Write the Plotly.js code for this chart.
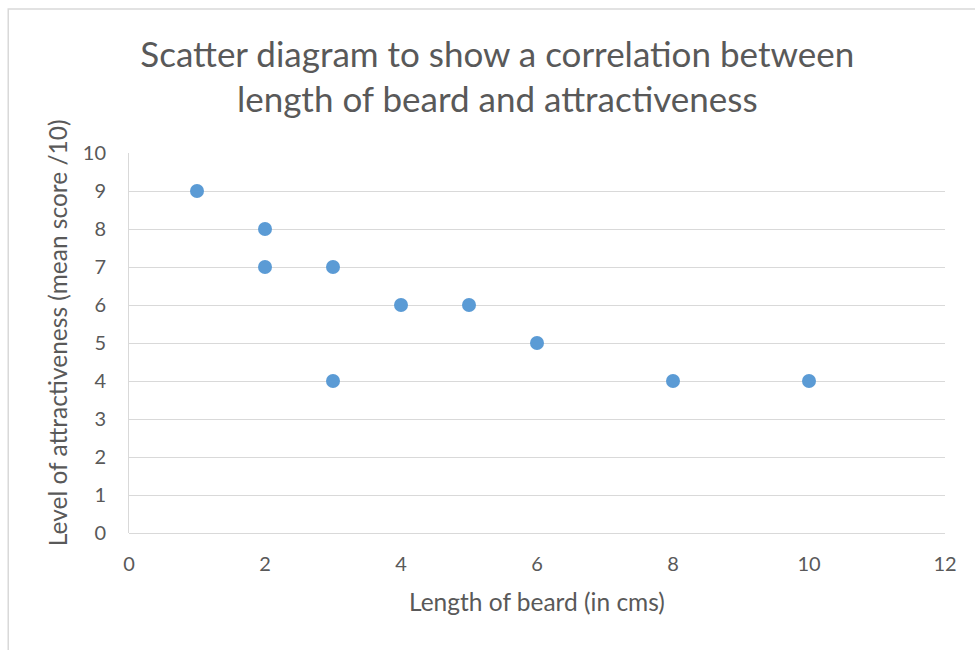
<!DOCTYPE html>
<html>
<head>
<meta charset="utf-8">
<script src="https://cdn.plot.ly/plotly-3.0.1.min.js"></script>
<style>html,body{margin:0;padding:0;background:#fff;}#chart{width:975px;height:650px;}</style>
</head>
<body>
<div id="chart"></div>
<script>
const beardLength = [1, 2, 2, 3, 3, 4, 5, 6, 8, 10];
const attractiveness = [9, 8, 7, 7, 4, 6, 6, 5, 4, 4];
const xTicks = [0, 2, 4, 6, 8, 10, 12];
const yTicks = [0, 1, 2, 3, 4, 5, 6, 7, 8, 9, 10];
const xTitle = 'Length of beard (in cms)';
const yTitle = 'Level of attractiveness (mean score /10)';

const fontFam = 'Lato, Calibri, sans-serif';
const textColor = '#595959';

const trace = {
  x: beardLength,
  y: attractiveness,
  mode: 'markers',
  type: 'scatter',
  marker: {color: '#5b9bd5', size: 14, line: {width: 0}},
  hoverinfo: 'x+y'
};

const layout = {
  width: 975,
  height: 650,
  margin: {l: 129, r: 30, t: 153, b: 117},
  paper_bgcolor: '#ffffff',
  plot_bgcolor: '#ffffff',
  showlegend: false,
  font: {family: fontFam, color: textColor},
  title: {
    text: 'Scatter diagram to show a correlation between<br>length of beard and attractiveness',
    font: {family: fontFam, size: 35, color: textColor},
    xref: 'container', x: 0.51, xanchor: 'center',
    yref: 'container', y: 0.897, yanchor: 'middle'
  },
  xaxis: {
    range: [0, 12],
    tickvals: xTicks,
    ticktext: xTicks.map(String),
    showgrid: false,
    zeroline: false,
    showline: false,
    ticks: '',
    ticklabelstandoff: 17,
    tickfont: {family: fontFam, size: 20, color: textColor},
    fixedrange: true
  },
  yaxis: {
    range: [0, 10],
    tickvals: yTicks,
    ticktext: yTicks.map(String),
    showgrid: true,
    gridcolor: '#d9d9d9',
    gridwidth: 1,
    zeroline: true,
    zerolinecolor: '#d9d9d9',
    zerolinewidth: 1,
    showline: true,
    linecolor: '#d9d9d9',
    linewidth: 1,
    ticks: '',
    ticklabelstandoff: 18,
    tickfont: {family: fontFam, size: 20, color: textColor},
    fixedrange: true
  },
  annotations: [
    {
      text: xTitle, showarrow: false,
      xref: 'paper', yref: 'paper', x: 0.5, y: -0.179,
      xanchor: 'center', yanchor: 'middle',
      font: {family: fontFam, size: 24.5, color: textColor}
    },
    {
      text: yTitle, showarrow: false, textangle: -90,
      xref: 'paper', yref: 'paper', x: -0.0882, y: 0.526,
      xanchor: 'center', yanchor: 'middle',
      font: {family: fontFam, size: 24.5, color: textColor}
    }
  ],
  shapes: [{
    type: 'rect', xref: 'paper', yref: 'paper',
    x0: -0.148, x1: 1.2, y0: -0.5, y1: 1.379,
    line: {color: '#d9d9d9', width: 1.5}, fillcolor: 'rgba(0,0,0,0)', layer: 'below'
  }]
};

Plotly.newPlot('chart', [trace], layout, {displayModeBar: false, staticPlot: true});
</script>
</body>
</html>
